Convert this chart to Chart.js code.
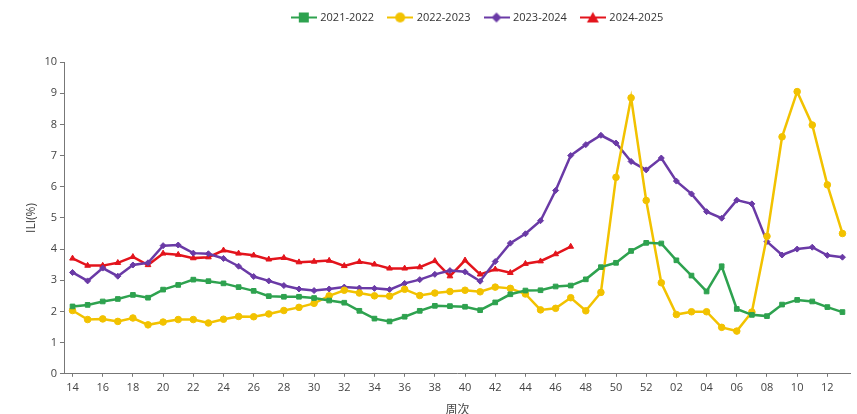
<!DOCTYPE html>
<html>
<head>
<meta charset="utf-8">
<script src="https://cdn.jsdelivr.net/npm/chart.js@4.4.1/dist/chart.umd.min.js"></script>
<style>
  body { margin: 0; background: #fff; }
  #wrap { width: 857px; height: 414px; }
</style>
</head>
<body>
<div id="wrap"><canvas id="myChart"></canvas></div>
<script>
// weeks 14..52 then 01..13
var weeks = ["14","15","16","17","18","19","20","21","22","23","24","25","26","27","28","29","30",
  "31","32","33","34","35","36","37","38","39","40","41","42","43","44","45","46","47","48","49",
  "50","51","52","01","02","03","04","05","06","07","08","09","10","11","12","13"];

var season2122 = [2.16,2.21,2.32,2.40,2.53,2.44,2.70,2.85,3.02,2.97,2.90,2.78,2.66,2.49,2.47,2.47,
  2.43,2.35,2.28,2.02,1.77,1.68,1.83,2.02,2.18,2.17,2.15,2.04,2.29,2.55,2.67,2.68,2.80,2.83,
  3.03,3.42,3.56,3.94,4.20,4.18,3.64,3.15,2.64,3.45,2.08,1.89,1.85,2.22,2.37,2.32,2.14,1.98];

var season2223 = [2.03,1.74,1.76,1.68,1.79,1.57,1.66,1.74,1.74,1.63,1.75,1.84,1.83,1.92,2.03,2.13,
  2.26,2.50,2.68,2.59,2.50,2.49,2.71,2.51,2.59,2.64,2.68,2.63,2.78,2.74,2.56,2.05,2.10,2.44,
  2.02,2.61,6.30,8.85,5.56,2.92,1.90,1.99,1.99,1.49,1.37,1.98,4.41,7.60,9.05,7.98,6.06,4.50];

var season2324 = [3.25,2.98,3.39,3.13,3.49,3.56,4.11,4.13,3.87,3.85,3.70,3.45,3.12,2.98,2.83,2.72,
  2.67,2.72,2.78,2.75,2.74,2.70,2.90,3.02,3.19,3.31,3.27,2.97,3.60,4.19,4.49,4.91,5.88,7.00,
  7.35,7.65,7.40,6.81,6.54,6.92,6.18,5.77,5.20,4.99,5.57,5.45,4.24,3.81,4.00,4.06,3.80,3.74];

var season2425 = [3.70,3.47,3.47,3.56,3.75,3.49,3.86,3.82,3.71,3.74,3.96,3.86,3.80,3.67,3.72,3.58,
  3.60,3.63,3.46,3.59,3.51,3.38,3.38,3.42,3.62,3.13,3.64,3.19,3.35,3.24,3.53,3.61,3.84,4.08];

var seriesNames = ["2021-2022", "2022-2023", "2023-2024", "2024-2025"];
var seriesColors = ["#2ea24f", "#f2c200", "#6a3aa6", "#e3141c"];
var seriesPoints = ["rect", "circle", "rectRot", "triangle"];

var fontFamily = "'Open Sans', 'Noto Sans CJK SC', sans-serif";

// legend icons: short line with the marker on it
function makeIcon(color, style) {
  var c = document.createElement("canvas");
  c.width = 26; c.height = 14;
  var g = c.getContext("2d");
  g.strokeStyle = color;
  g.fillStyle = color;
  g.lineWidth = 2;
  g.beginPath(); g.moveTo(0, 7); g.lineTo(26, 7); g.stroke();
  g.beginPath();
  if (style == "rect") {
    g.rect(8, 2, 10, 10);
  } else if (style == "circle") {
    g.arc(13, 7, 5, 0, Math.PI * 2);
  } else if (style == "rectRot") {
    g.moveTo(13, 2); g.lineTo(18, 7); g.lineTo(13, 12); g.lineTo(8, 7);
  } else {
    g.moveTo(13, 1.5); g.lineTo(19, 12); g.lineTo(7, 12);
  }
  g.closePath(); g.fill();
  return c;
}
var legendIcons = seriesColors.map(function(col, i) { return makeIcon(col, seriesPoints[i]); });

var allData = [season2122, season2223, season2324, season2425];
var graphDataSets = allData.map(function(d, i) {
  return {
    label: seriesNames[i],
    data: d,
    fill: false,
    borderColor: seriesColors[i],
    backgroundColor: seriesColors[i],
    borderWidth: 2.5,
    pointStyle: seriesPoints[i],
    pointRadius: i == 2 ? 3 : 3.3,
    pointBorderWidth: 1,
    tension: 0
  };
});

// push the legend down/right a bit like the original
var legendTweak = {
  id: "legendTweak",
  beforeInit: function(chart) {
    var lg = chart.legend;
    var oldFit = lg.fit;
    lg.fit = function() {
      oldFit.call(this);
      this.height += 26;
    };
    var oldDraw = lg.draw;
    lg.draw = function() {
      var ctx = this.ctx;
      ctx.save();
      ctx.translate(41, -3);
      oldDraw.call(this);
      ctx.restore();
    };
  }
};

var ctx = document.getElementById("myChart");
var myChart = new Chart(ctx, {
  type: "line",
  data: {
    labels: weeks,
    datasets: graphDataSets
  },
  plugins: [legendTweak],
  options: {
    responsive: true,
    maintainAspectRatio: false,
    animation: false,
    layout: { padding: { left: 24, right: 7, top: 0, bottom: -3 } },
    plugins: {
      legend: {
        position: "top",
        labels: {
          usePointStyle: true,
          pointStyleWidth: 22,
          padding: 15,
          color: "#333",
          font: { family: fontFamily, size: 11 },
          generateLabels: function(chart) {
            var items = Chart.defaults.plugins.legend.labels.generateLabels(chart);
            items.forEach(function(it) { it.pointStyle = legendIcons[it.datasetIndex]; });
            return items;
          }
        }
      },
      tooltip: { enabled: false }
    },
    scales: {
      x: {
        offset: true,
        border: { color: "#777", width: 1 },
        grid: {
          drawOnChartArea: false,
          drawTicks: true,
          tickLength: 3,
          color: function(c) { return c.index % 2 == 0 ? "#777" : "rgba(0,0,0,0)"; }
        },
        ticks: {
          autoSkip: false,
          maxRotation: 0,
          padding: 4,
          color: "#444",
          font: { family: fontFamily, size: 11 },
          callback: function(v, i) { return i % 2 == 0 ? weeks[i] : ""; }
        },
        title: {
          display: true,
          text: "周次",
          color: "#444",
          padding: { top: 7, bottom: 0 },
          font: { family: fontFamily, size: 12, lineHeight: 1 }
        }
      },
      y: {
        min: 0,
        max: 10,
        border: { color: "#777", width: 1 },
        grid: {
          drawOnChartArea: false,
          drawTicks: true,
          tickLength: 5,
          color: "#777"
        },
        ticks: {
          stepSize: 1,
          padding: 3,
          color: "#444",
          font: { family: fontFamily, size: 11 }
        },
        title: {
          display: true,
          text: "ILI(%)",
          color: "#444",
          padding: { top: 0, bottom: 3 },
          font: { family: fontFamily, size: 12 }
        }
      }
    }
  }
});
</script>
</body>
</html>
